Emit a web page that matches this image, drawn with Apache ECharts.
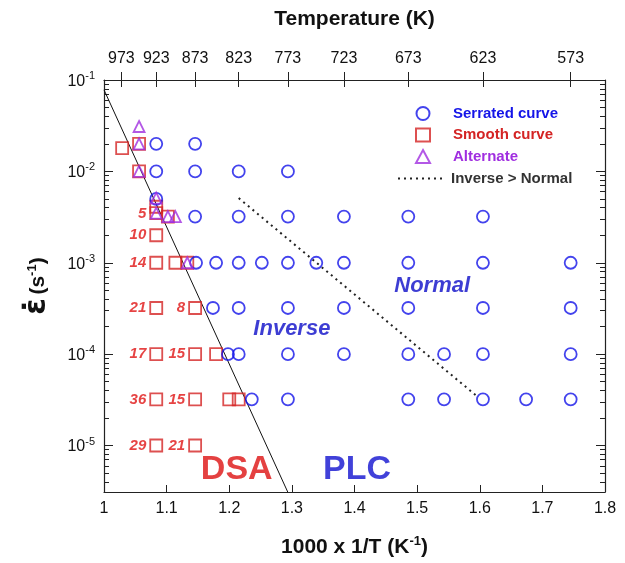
<!DOCTYPE html>
<html>
<head>
<meta charset="utf-8">
<script src="https://cdn.jsdelivr.net/npm/echarts@6/dist/echarts.min.js"></script>
<style>
html, body { margin: 0; padding: 0; background: #fff; }
#chart { width: 625px; height: 563px; }
</style>
</head>
<body>
<div id="chart"></div>
<script>
//顶部温度刻度 (K)
var tempTicks = [973, 923, 873, 823, 773, 723, 673, 623, 573];

//Serrated curve (圆)
var serratedX = [1.0834, 1.1455,
    1.0834, 1.1455, 1.2151, 1.2937,
    1.0834,
    1.1455, 1.2151, 1.2937, 1.3831, 1.4859, 1.6051,
    1.147, 1.179, 1.2151, 1.252, 1.2937, 1.339, 1.3831, 1.4859, 1.6051, 1.7452,
    1.174, 1.2151, 1.2937, 1.3831, 1.4859, 1.6051, 1.7452,
    1.198, 1.2151, 1.2937, 1.3831, 1.4859, 1.543, 1.6051, 1.7452,
    1.236, 1.2937, 1.4859, 1.543, 1.6051, 1.674, 1.7452];
var serratedY = [2e-2, 2e-2,
    1e-2, 1e-2, 1e-2, 1e-2,
    5e-3,
    3.2e-3, 3.2e-3, 3.2e-3, 3.2e-3, 3.2e-3, 3.2e-3,
    1e-3, 1e-3, 1e-3, 1e-3, 1e-3, 1e-3, 1e-3, 1e-3, 1e-3, 1e-3,
    3.2e-4, 3.2e-4, 3.2e-4, 3.2e-4, 3.2e-4, 3.2e-4, 3.2e-4,
    1e-4, 1e-4, 1e-4, 1e-4, 1e-4, 1e-4, 1e-4, 1e-4,
    3.2e-5, 3.2e-5, 3.2e-5, 3.2e-5, 3.2e-5, 3.2e-5, 3.2e-5];

//Smooth curve (方块)
var smoothX = [1.029, 1.056, 1.056, 1.0834, 1.0834, 1.102, 1.0834,
    1.0834, 1.114, 1.133,
    1.0834, 1.1455,
    1.0834, 1.1455, 1.179,
    1.0834, 1.1455, 1.2, 1.2151,
    1.0834, 1.1455];
var smoothY = [1.8e-2, 2e-2, 1e-2, 4.1e-3, 3.5e-3, 3.2e-3, 2e-3,
    1e-3, 1e-3, 1e-3,
    3.2e-4, 3.2e-4,
    1e-4, 1e-4, 1e-4,
    3.2e-5, 3.2e-5, 3.2e-5, 3.2e-5,
    1e-5, 1e-5];

//Alternate (三角)
var alternateX = [1.056, 1.056, 1.056, 1.0834, 1.0834, 1.102, 1.114, 1.133];
var alternateY = [3.1e-2, 2e-2, 1e-2, 5.1e-3, 3.5e-3, 3.2e-3, 3.2e-3, 1e-3];

//方块旁的红色数字
var countX = [1.0834, 1.0834, 1.0834, 1.0834, 1.0834, 1.0834, 1.0834, 1.1455, 1.1455, 1.1455, 1.1455];
var countY = [3.4e-3, 2e-3, 1e-3, 3.2e-4, 1e-4, 3.2e-5, 1e-5, 3.2e-4, 1e-4, 3.2e-5, 1e-5];
var countText = ['5', '10', '14', '21', '17', '36', '29', '8', '15', '15', '21'];

//DSA 边界线
var boundaryX = [1.0, 1.2934];
var boundaryY = [0.078, 3.1e-6];
//Inverse > Normal
var inverseX = [1.2151, 1.597];
var inverseY = [5.1e-3, 3.4e-5];

//区域文字
var regimeX = [1.524, 1.30];
var regimeY = [5.6e-4, 1.9e-4];
var regimeText = ['Normal', 'Inverse'];
var dsaPos = [1.212, 5.4e-6];
var plcPos = [1.404, 5.4e-6];

var yMin = 3.1e-6;
var yMax = 0.1;

var BLUE = '#1414e8';
var RED = '#d42424';
var PURPLE = '#a02ee0';
var FONT = 'Liberation Sans, Arial, sans-serif';

var zip = function (xs, ys) {
    var out = [];
    for (var i = 0; i < xs.length; i++) {
        out.push([xs[i], ys[i]]);
    }
    return out;
};

var tempX = tempTicks.map(function (t) { return 1000 / t; });

var minorY = [];
for (var e = -6; e <= -2; e++) {
    for (var k = 2; k <= 9; k++) {
        var v = k * Math.pow(10, e);
        if (v > yMin && v < yMax) minorY.push(v);
    }
}

var textSeries = function (name, xs, ys, texts, labelStyle) {
    var data = [];
    for (var i = 0; i < xs.length; i++) {
        data.push({ value: [xs[i], ys[i]], name: texts[i] });
    }
    return {
        name: name,
        type: 'scatter',
        symbol: 'rect',
        symbolSize: 12,
        silent: true,
        itemStyle: { color: 'transparent' },
        label: Object.assign({
            show: true,
            formatter: function (p) { return p.name; },
            fontFamily: FONT
        }, labelStyle),
        data: data,
        z: 5
    };
};

var chart = echarts.init(document.getElementById('chart'));

var yLabelFormatter = function (v) {
    var lg = Math.log10(v);
    var n = Math.round(lg);
    if (Math.abs(lg - n) > 1e-6) return '';
    return '{b|10}{s|' + n + '}';
};

var legendText = { fontSize: 15, fontWeight: 'bold', fontFamily: FONT };

var option = {
    animation: false,
    backgroundColor: '#fff',
    textStyle: { fontFamily: FONT },
    grid: { left: 104, right: 20, top: 80, bottom: 70 },
    legend: [{
        orient: 'vertical',
        left: 410,
        top: 101,
        itemWidth: 14,
        itemHeight: 13,
        itemGap: 6.5,
        selectedMode: false,
        textStyle: Object.assign({ padding: [0, 0, 0, 18] }, legendText),
        data: [
            { name: 'Serrated curve', textStyle: { color: BLUE } },
            { name: 'Smooth curve', textStyle: { color: RED } },
            { name: 'Alternate', textStyle: { color: PURPLE } }
        ]
    }, {
        orient: 'vertical',
        left: 392,
        top: 166,
        itemWidth: 48,
        itemHeight: 13,
        selectedMode: false,
        textStyle: legendText,
        data: [{ name: 'Inverse > Normal', textStyle: { color: '#333' } }]
    }],
    xAxis: [{
        type: 'value',
        position: 'bottom',
        min: 1,
        max: 1.8,
        interval: 0.1,
        axisLine: { lineStyle: { color: '#222', width: 1.2 } },
        axisTick: { inside: true, length: 7, lineStyle: { color: '#222' } },
        axisLabel: { fontSize: 16, color: '#111', margin: 9, fontFamily: FONT },
        splitLine: { show: false },
        name: '{a|1000 x 1/T (K}{s|-1}{a|)}',
        nameLocation: 'middle',
        nameGap: 43,
        nameTextStyle: {
            rich: {
                a: { fontSize: 21, fontWeight: 'bold', color: '#111', fontFamily: FONT, verticalAlign: 'bottom' },
                s: { fontSize: 13, fontWeight: 'bold', color: '#111', fontFamily: FONT, verticalAlign: 'bottom', padding: [0, 0, 10, 0] }
            }
        }
    }, {
        type: 'value',
        position: 'top',
        min: 1,
        max: 1.8,
        axisLine: { lineStyle: { color: '#222', width: 1.2 } },
        axisTick: { inside: false, length: 8, customValues: tempX, lineStyle: { color: '#222' } },
        axisLabel: {
            customValues: tempX,
            fontSize: 16,
            color: '#111',
            margin: 13,
            fontFamily: FONT,
            formatter: function (v) { return String(Math.round(1000 / v)); }
        },
        splitLine: { show: false },
        name: 'Temperature (K)',
        nameLocation: 'middle',
        nameGap: 50,
        nameTextStyle: { fontSize: 21, fontWeight: 'bold', color: '#111', fontFamily: FONT }
    }, {
        type: 'value',
        position: 'top',
        min: 1,
        max: 1.8,
        axisLine: { show: false },
        axisTick: { inside: true, length: 7, customValues: tempX, lineStyle: { color: '#222' } },
        axisLabel: { show: false },
        splitLine: { show: false }
    }],
    yAxis: [{
        type: 'log',
        logBase: 10,
        position: 'left',
        min: yMin,
        max: yMax,
        axisLine: { show: true, lineStyle: { color: '#222', width: 1.2 } },
        axisTick: { show: true, inside: true, length: 9, lineStyle: { color: '#222' } },
        axisLabel: {
            margin: 9,
            formatter: yLabelFormatter,
            rich: {
                b: { fontSize: 16, color: '#111', fontFamily: FONT, verticalAlign: 'bottom' },
                s: { fontSize: 11, color: '#111', fontFamily: FONT, verticalAlign: 'bottom', padding: [0, 0, 8, 0] }
            }
        },
        splitLine: { show: false },
        name: '{e|ε̇}{g| }{a|(s}{s|-1}{a|)}',
        nameLocation: 'middle',
        nameGap: 52,
        nameTextStyle: {
            rich: {
                e: { fontSize: 30, fontWeight: 'bold', color: '#111', fontFamily: 'DejaVu Sans, sans-serif', verticalAlign: 'bottom' },
                g: { fontSize: 12, verticalAlign: 'bottom' },
                a: { fontSize: 21, fontWeight: 'bold', color: '#111', fontFamily: FONT, verticalAlign: 'bottom', padding: [0, 0, 3, 0] },
                s: { fontSize: 13, fontWeight: 'bold', color: '#111', fontFamily: FONT, verticalAlign: 'bottom', padding: [0, 0, 13, 0] }
            }
        }
    }, {
        type: 'log',
        logBase: 10,
        position: 'left',
        min: yMin,
        max: yMax,
        axisLine: { show: false },
        axisTick: { show: true, inside: true, length: 5, customValues: minorY, lineStyle: { color: '#222' } },
        axisLabel: { show: false },
        splitLine: { show: false }
    }, {
        type: 'log',
        logBase: 10,
        position: 'right',
        min: yMin,
        max: yMax,
        axisLine: { show: true, lineStyle: { color: '#222', width: 1.2 } },
        axisTick: { show: true, inside: true, length: 9, lineStyle: { color: '#222' } },
        axisLabel: { show: false },
        splitLine: { show: false }
    }, {
        type: 'log',
        logBase: 10,
        position: 'right',
        min: yMin,
        max: yMax,
        axisLine: { show: false },
        axisTick: { show: true, inside: true, length: 5, customValues: minorY, lineStyle: { color: '#222' } },
        axisLabel: { show: false },
        splitLine: { show: false }
    }],
    series: [{
        name: 'boundary',
        type: 'line',
        symbol: 'none',
        silent: true,
        lineStyle: { color: '#111', width: 1 },
        data: zip(boundaryX, boundaryY),
        z: 1
    }, {
        name: 'Inverse > Normal',
        type: 'line',
        symbol: 'none',
        silent: true,
        itemStyle: { color: 'transparent' },
        lineStyle: { color: '#222', width: 2, type: [2, 4] },
        data: zip(inverseX, inverseY),
        z: 1
    }, {
        name: 'Smooth curve',
        type: 'scatter',
        symbol: 'rect',
        symbolSize: 12,
        itemStyle: { color: 'transparent', borderColor: RED, borderWidth: 1.8 },
        data: zip(smoothX, smoothY),
        z: 3
    }, {
        name: 'Serrated curve',
        type: 'scatter',
        symbol: 'circle',
        symbolSize: 12,
        itemStyle: { color: 'transparent', borderColor: BLUE, borderWidth: 1.8 },
        data: zip(serratedX, serratedY),
        z: 3
    }, {
        name: 'Alternate',
        type: 'scatter',
        symbol: 'triangle',
        symbolSize: 11,
        itemStyle: { color: 'transparent', borderColor: PURPLE, borderWidth: 1.8 },
        data: zip(alternateX, alternateY),
        z: 4
    },
    textSeries('counts', countX, countY, countText, {
        position: 'left', distance: 4, color: '#e01414', fontSize: 15, fontWeight: 'bold', fontStyle: 'italic'
    }),
    textSeries('regime', regimeX, regimeY, regimeText, {
        position: 'inside', color: '#0c0cc8', fontSize: 22, fontWeight: 'bold', fontStyle: 'italic'
    }),
    textSeries('dsa', [dsaPos[0]], [dsaPos[1]], ['DSA'], {
        position: 'inside', color: '#dd1111', fontSize: 34, fontWeight: 'bold'
    }),
    textSeries('plc', [plcPos[0]], [plcPos[1]], ['PLC'], {
        position: 'inside', color: '#1212d0', fontSize: 34, fontWeight: 'bold'
    })]
};

chart.setOption(option);
</script>
</body>
</html>
